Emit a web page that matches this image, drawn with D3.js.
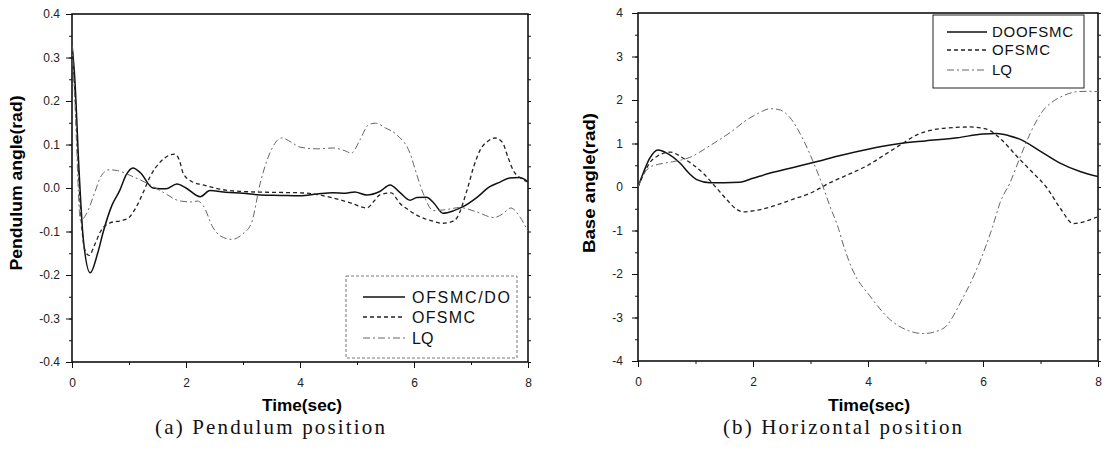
<!DOCTYPE html>
<html><head><meta charset="utf-8">
<script src="https://cdn.jsdelivr.net/npm/d3@7"></script>
<style>body{margin:0;background:#fff}svg{display:block}</style>
</head><body>
<svg id="c" width="1109" height="452"></svg>
<script>
// ---------- DATA ----------
// (a) Pendulum position
const pendTicksY = [-0.4,-0.3,-0.2,-0.1,0.0,0.1,0.2,0.3,0.4];
const timeTicks = [0,2,4,6,8];
const pendOfsmcDoT = [0,0.05,0.12,0.2,0.32,0.45,0.55,0.7,0.84,0.95,1.07,1.2,1.42,1.65,1.84,2.0,2.25,2.42,2.7,3.0,3.3,3.65,4.0,4.3,4.58,4.8,4.96,5.17,5.4,5.58,5.75,5.93,6.05,6.22,6.35,6.51,6.7,6.86,7.1,7.33,7.5,7.68,7.85,8.0];
const pendOfsmcDoV = [0.33,0.25,0.05,-0.12,-0.195,-0.15,-0.1,-0.04,-0.005,0.03,0.046,0.035,0.0,-0.002,0.009,0.0,-0.02,-0.006,-0.01,-0.012,-0.016,-0.017,-0.018,-0.014,-0.011,-0.012,-0.009,-0.016,-0.008,0.007,-0.01,-0.028,-0.022,-0.021,-0.035,-0.058,-0.052,-0.043,-0.022,0.003,0.013,0.023,0.024,0.014];
const pendOfsmcT = [0,0.05,0.15,0.22,0.3,0.4,0.5,0.67,0.9,1.0,1.13,1.25,1.37,1.55,1.72,1.8,1.88,1.95,2.1,2.3,2.7,3.0,3.5,4.0,4.3,4.58,4.9,5.17,5.3,5.4,5.6,5.75,5.9,6.1,6.3,6.5,6.65,6.75,6.93,7.05,7.16,7.3,7.42,7.55,7.65,7.74,7.88,8.0];
const pendOfsmcV = [0.33,0.22,-0.05,-0.14,-0.155,-0.13,-0.1,-0.08,-0.074,-0.068,-0.043,-0.01,0.026,0.06,0.076,0.078,0.065,0.034,0.015,0.007,-0.005,-0.008,-0.01,-0.011,-0.015,-0.023,-0.035,-0.046,-0.03,-0.016,-0.011,-0.035,-0.05,-0.066,-0.075,-0.081,-0.078,-0.069,-0.005,0.05,0.087,0.108,0.115,0.105,0.07,0.041,0.022,0.014];
const pendLqT = [0,0.05,0.15,0.25,0.4,0.5,0.65,0.8,1.0,1.3,1.6,1.9,2.1,2.2,2.3,2.47,2.6,2.8,3.0,3.15,3.3,3.47,3.68,3.85,4.0,4.3,4.58,4.8,4.9,5.05,5.2,5.32,5.5,5.7,5.93,6.05,6.16,6.34,6.55,6.8,7.1,7.4,7.55,7.7,7.85,8.0];
const pendLqV = [0.33,0.2,-0.075,-0.06,-0.01,0.025,0.042,0.04,0.03,0.012,-0.01,-0.03,-0.032,-0.03,-0.04,-0.09,-0.11,-0.118,-0.105,-0.08,0.01,0.08,0.115,0.105,0.094,0.09,0.092,0.085,0.08,0.11,0.145,0.149,0.138,0.122,0.08,0.03,-0.012,-0.052,-0.05,-0.045,-0.055,-0.068,-0.06,-0.046,-0.065,-0.1];
const pendLegend = ["OFSMC/DO","OFSMC","LQ"];

// (b) Horizontal position
const baseTicksY = [-4,-3,-2,-1,0,1,2,3,4];
const baseDoofsmcT = [0,0.1,0.2,0.35,0.5,0.73,0.9,1.02,1.25,1.5,1.77,2.0,2.3,2.7,3.1,3.5,4.0,4.56,5.0,5.55,6.0,6.24,6.45,6.64,7.0,7.34,7.7,8.0];
const baseDoofsmcV = [0,0.35,0.65,0.85,0.78,0.55,0.3,0.17,0.1,0.1,0.11,0.2,0.32,0.45,0.58,0.72,0.87,1.0,1.06,1.13,1.22,1.23,1.18,1.1,0.82,0.55,0.35,0.24];
const baseOfsmcT = [0,0.1,0.2,0.35,0.56,0.8,1.13,1.35,1.55,1.7,1.83,2.0,2.3,2.7,3.0,3.34,3.68,4.0,4.3,4.6,4.85,5.08,5.4,5.77,6.0,6.12,6.35,6.6,6.85,7.1,7.35,7.57,7.75,7.98];
const baseOfsmcV = [0,0.3,0.55,0.72,0.8,0.65,0.32,0.0,-0.3,-0.5,-0.57,-0.55,-0.46,-0.28,-0.14,0.1,0.3,0.5,0.75,1.0,1.2,1.3,1.36,1.38,1.35,1.3,1.05,0.69,0.35,0.0,-0.5,-0.84,-0.8,-0.69];
const baseLqT = [0,0.1,0.2,0.35,0.6,0.9,1.25,1.6,1.9,2.1,2.3,2.45,2.64,2.87,3.04,3.22,3.34,3.46,3.6,3.74,4.03,4.43,4.7,4.96,5.3,5.65,5.95,6.17,6.3,6.47,6.65,6.82,7.04,7.2,7.4,7.63,7.8,8.0];
const baseLqV = [0,0.3,0.45,0.52,0.58,0.68,0.95,1.25,1.55,1.7,1.8,1.78,1.6,1.1,0.6,0.0,-0.45,-0.85,-1.45,-1.93,-2.5,-3.1,-3.3,-3.37,-3.26,-2.55,-1.7,-0.9,-0.35,0.1,0.7,1.23,1.75,1.95,2.1,2.19,2.2,2.19];
const baseLegend = ["DOOFSMC","OFSMC","LQ"];

// ---------- DRAW ----------
const svg = d3.select("#c");
const styles = [
  {stroke:"#111", width:1.5, dash:null},
  {stroke:"#222", width:1.3, dash:"4,3"},
  {stroke:"#666", width:1.0, dash:"7,3,2,3"}
];
const zip = (t,v) => t.map((d,i)=>[d,v[i]]);
const SANS = "Liberation Sans, Arial, sans-serif";

function panel(o){
  const x = d3.scaleLinear().domain([0,8]).range(o.xr);
  const y = d3.scaleLinear().domain(o.yd).range(o.yr);
  const g = svg.append("g");
  const yMinor = d3.range(o.yd[0], o.yd[1]+1e-9, o.minorStep);
  g.append("g").attr("transform",`translate(${o.xr[0]},0)`)
   .call(d3.axisLeft(y).tickValues(yMinor).tickSize(3).tickFormat(""))
   .call(a=>a.select(".domain").remove());
  g.append("g").attr("transform",`translate(0,${o.yr[0]})`)
   .call(d3.axisBottom(x).tickValues(d3.range(0,9,1)).tickSize(3).tickFormat(""))
   .call(a=>a.select(".domain").remove());
  g.append("g").attr("transform",`translate(${o.xr[1]},0)`)
   .call(d3.axisLeft(y).tickValues(yMinor).tickSize(-3).tickFormat(""))
   .call(a=>a.select(".domain").remove());
  const ya = g.append("g").attr("transform",`translate(${o.xr[0]},0)`)
   .call(d3.axisLeft(y).tickValues(o.yticks).tickSize(6).tickPadding(o.ypad).tickFormat(o.fmt));
  const xa = g.append("g").attr("transform",`translate(0,${o.yr[0]})`)
   .call(d3.axisBottom(x).tickValues(timeTicks).tickSize(6).tickPadding(10).tickFormat(d=>d));
  [ya,xa].forEach(a=>{
    a.selectAll("text").attr("font-family",SANS).attr("font-size",12).attr("fill","#222");
    a.select(".domain").remove();
  });
  g.selectAll(".tick line").attr("stroke","#111");
  g.append("rect").attr("x",o.xr[0]).attr("y",o.yr[1])
   .attr("width",o.xr[1]-o.xr[0]).attr("height",o.yr[0]-o.yr[1])
   .attr("fill","none").attr("stroke","#111").attr("stroke-width",1.6);
  const line = d3.line().x(d=>x(d[0])).y(d=>y(d[1])).curve(d3.curveMonotoneX);
  const clip = "clip"+o.id;
  svg.append("clipPath").attr("id",clip).append("rect")
    .attr("x",o.xr[0]).attr("y",o.yr[1]).attr("width",o.xr[1]-o.xr[0]).attr("height",o.yr[0]-o.yr[1]);
  const lg = g.append("g").attr("clip-path",`url(#${clip})`);
  o.series.forEach((s,i)=>{
    lg.append("path").datum(zip(s[0],s[1])).attr("d",line)
      .attr("fill","none").attr("stroke",styles[i].stroke).attr("stroke-width",styles[i].width)
      .attr("stroke-dasharray",styles[i].dash).attr("stroke-linejoin","round");
  });
  const L = o.legend;
  g.append("rect").attr("x",L.x).attr("y",L.y).attr("width",L.w).attr("height",L.h)
   .attr("fill","#fff").attr("stroke",L.stroke).attr("stroke-width",1).attr("stroke-dasharray",L.dash);
  o.names.forEach((n,i)=>{
    const yy = L.rows[i];
    g.append("line").attr("x1",L.lx1).attr("x2",L.lx2).attr("y1",yy).attr("y2",yy)
      .attr("stroke",styles[i].stroke).attr("stroke-width",styles[i].width).attr("stroke-dasharray",styles[i].dash);
    const t = g.append("text").attr("x",L.tx).attr("y",yy).attr("dy","0.36em")
      .attr("font-family",SANS).attr("font-size",L.fs).attr("fill","#111").text(n);
    if (L.tl[i]) t.attr("textLength",L.tl[i]).attr("lengthAdjust","spacing");
  });
  g.append("text").attr("x",o.xTitle[0]).attr("y",o.xTitle[1]).attr("text-anchor","middle")
   .attr("font-family",SANS).attr("font-weight","bold").attr("font-size",16)
   .attr("textLength",o.xTitle[2]).attr("lengthAdjust","spacingAndGlyphs").text("Time(sec)");
  g.append("text").attr("transform",`translate(${o.yTitle[0]},${o.yTitle[1]}) rotate(-90)`)
   .attr("text-anchor","middle").attr("dy","0.35em")
   .attr("font-family",SANS).attr("font-weight","bold").attr("font-size",16)
   .attr("textLength",o.yTitle[2]).attr("lengthAdjust","spacingAndGlyphs").text(o.yTitle[3]);
  g.append("text").attr("x",o.cap[0]).attr("y",434)
   .attr("font-family","Liberation Serif, Times New Roman, serif").attr("font-size",21).attr("fill","#111")
   .attr("textLength",o.cap[1]).attr("lengthAdjust","spacing").text(o.cap[2]);
}

panel({
  id:"a", xr:[72,528], yr:[362,14], yd:[-0.4,0.4], minorStep:0.05, yticks:pendTicksY, ypad:6,
  fmt:d=>d.toFixed(1),
  series:[[pendOfsmcDoT,pendOfsmcDoV],[pendOfsmcT,pendOfsmcV],[pendLqT,pendLqV]],
  names:pendLegend,
  legend:{x:346,y:276,w:171,h:82,stroke:"#777",dash:"3,2",rows:[297,317,338],lx1:363,lx2:405,tx:412,fs:16,tl:[98,63,null]},
  xTitle:[302,411,80], yTitle:[16,183,175,"Pendulum angle(rad)"],
  cap:[155,230,"(a)  Pendulum position"]
});
panel({
  id:"b", xr:[638,1098], yr:[361,13], yd:[-4,4], minorStep:0.5, yticks:baseTicksY, ypad:9,
  fmt:d=>String(d),
  series:[[baseDoofsmcT,baseDoofsmcV],[baseOfsmcT,baseOfsmcV],[baseLqT,baseLqV]],
  names:baseLegend,
  legend:{x:933,y:15,w:151,h:73,stroke:"#222",dash:null,rows:[32,50,70],lx1:947,lx2:987,tx:992,fs:15,tl:[81,58,null]},
  xTitle:[869,411,82], yTitle:[589,183,140,"Base angle(rad)"],
  cap:[723,239,"(b)  Horizontal position"]
});
</script>
</body></html>
